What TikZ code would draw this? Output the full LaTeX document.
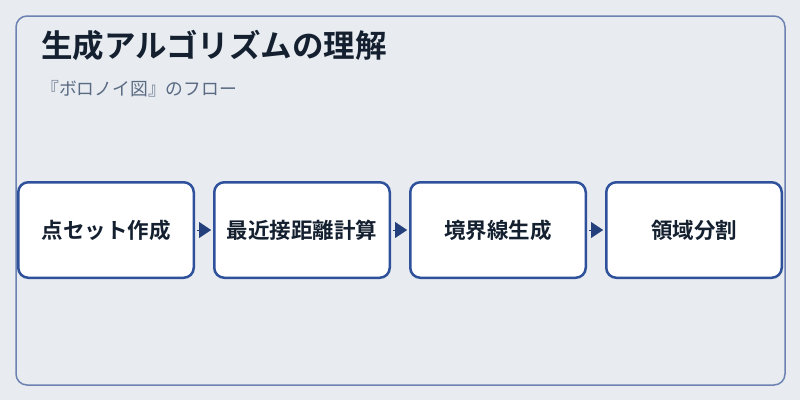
\documentclass[tikz,border=0pt]{standalone}
\usepackage{fontspec}
\setmainfont{Noto Sans CJK JP}
\newfontfamily\jpbold{Noto Sans CJK JP Bold}
\usetikzlibrary{positioning,arrows.meta}
\definecolor{bgcol}{HTML}{E8ECF1}
\definecolor{framecol}{HTML}{6C82B2}
\definecolor{boxcol}{HTML}{2F519C}
\definecolor{tipcol}{HTML}{23407C}
\definecolor{titlecol}{HTML}{14202F}
\definecolor{subcol}{HTML}{5A6A82}
\tikzset{
  stepbox/.style={draw=boxcol,fill=white,line width=2.5pt,rounded corners=10pt,
    minimum width=175.5pt,minimum height=95.5pt,inner sep=0pt,
    font=\jpbold\fontsize{21.5}{24}\selectfont,text=titlecol},
  flow/.style={-{Triangle[length=12pt,width=16pt]},draw=tipcol,fill=tipcol,
    line width=0.1pt,shorten <=2pt,shorten >=2pt}
}
\begin{document}
\begin{tikzpicture}[x=1pt,y=-1pt]
  \useasboundingbox[fill=bgcol] (0,0) rectangle (800,400);
  \draw[framecol,line width=1.5pt,rounded corners=11pt] (16,16) rectangle (785,385);
  \node[anchor=base west,inner sep=0pt,text=titlecol,font=\jpbold\fontsize{31.5}{36}\selectfont] (title) at (41,57) {生成アルゴリズムの理解};
  \node[anchor=base west,inner sep=0pt,text=subcol,font=\fontsize{17.8}{21}\selectfont] (sub) at (41,95) {『ボロノイ図』のフロー};
    % process steps
    \node[stepbox] (pts) at (106,230) {点セット作成};
    \node[stepbox,right=18pt of pts] (dist) {最近接距離計算};
    \node[stepbox,right=18pt of dist] (edge) {境界線生成};
    \node[stepbox,right=18pt of edge] (cell) {領域分割};
    \draw[flow] (pts) -- (dist);
    \draw[flow] (dist) -- (edge);
    \draw[flow] (edge) -- (cell);
  \end{tikzpicture}
\end{document}
